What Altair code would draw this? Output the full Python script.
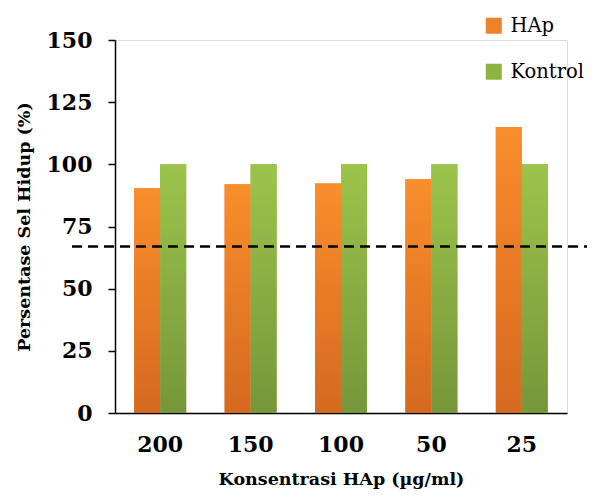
import altair as alt
import pandas as pd

concentrations = ["200", "150", "100", "50", "25"]
hap_values = [90.5, 92.0, 92.3, 94.0, 115.0]
kontrol_values = [100.0, 100.0, 100.0, 100.0, 100.0]
series_names = ["HAp", "Kontrol"]
threshold = [67.0]
y_ticks = [0, 25, 50, 75, 100, 125, 150]

rows = []
for c, h, k in zip(concentrations, hap_values, kontrol_values):
    rows.append({"konsentrasi": c, "seri": "HAp", "nilai": h})
    rows.append({"konsentrasi": c, "seri": "Kontrol", "nilai": k})
df = pd.DataFrame(rows)
df_line = pd.DataFrame({"batas": threshold})

FONT = "DejaVu Serif"
W, H = 452, 373

x_enc = alt.X(
    "konsentrasi:N",
    sort=concentrations,
    scale=alt.Scale(paddingInner=0.425, paddingOuter=0.2125),
    axis=alt.Axis(
        title="Konsentrasi HAp (µg/ml)",
        labelAngle=0,
        ticks=False,
        labelPadding=21,
        labelFont=FONT,
        labelFontWeight="bold",
        labelFontSize=22,
        labelColor="black",
        titleFont=FONT,
        titleFontWeight="bold",
        titleFontSize=17.5,
        titleColor="black",
        titlePadding=15,
        domainColor="black",
        domainWidth=1.5,
    ),
)
y_enc = alt.Y(
    "nilai:Q",
    scale=alt.Scale(domain=[0, 150], nice=False),
    axis=alt.Axis(
        title="Persentase Sel Hidup (%)",
        values=y_ticks,
        grid=False,
        tickSize=7,
        tickColor="black",
        tickWidth=1.5,
        labelPadding=16,
        labelFont=FONT,
        labelFontWeight="bold",
        labelFontSize=22,
        labelColor="black",
        titleFont=FONT,
        titleFontWeight="bold",
        titleFontSize=17.5,
        titleColor="black",
        titlePadding=13,
        domainColor="black",
        domainWidth=1.5,
    ),
)
xoff = alt.XOffset("seri:N", sort=series_names)

base = alt.Chart(df).mark_bar().encode(
    x=x_enc,
    y=y_enc,
    xOffset=xoff,
    color=alt.Color(
        "seri:N",
        sort=series_names,
        scale=alt.Scale(domain=series_names, range=["#EE8129", "#8DB343"]),
        legend=alt.Legend(
            title=None,
            orient="none",
            legendX=369,
            legendY=-24,
            symbolType="square",
            symbolSize=256,
            symbolStrokeWidth=0,
            labelFont=FONT,
            labelFontSize=19.5,
            labelColor="black",
            labelOffset=7,
            rowPadding=25,
            padding=0,
        ),
    ),
)

grad_hap = alt.Gradient(
    gradient="linear", x1=0, x2=0, y1=0, y2=1,
    stops=[alt.GradientStop(color="#F98E2C", offset=0),
           alt.GradientStop(color="#D5691F", offset=1)],
)
grad_kon = alt.Gradient(
    gradient="linear", x1=0, x2=0, y1=0, y2=1,
    stops=[alt.GradientStop(color="#9CC44B", offset=0),
           alt.GradientStop(color="#76963A", offset=1)],
)

hap_layer = alt.Chart(df).transform_filter(alt.datum.seri == "HAp").mark_bar(
    color=grad_hap
).encode(x=x_enc, y=y_enc, xOffset=xoff)
kon_layer = alt.Chart(df).transform_filter(alt.datum.seri == "Kontrol").mark_bar(
    color=grad_kon
).encode(x=x_enc, y=y_enc, xOffset=xoff)

rule = alt.Chart(df_line).mark_rule(
    color="black", strokeWidth=2.5, strokeDash=[10, 6]
).encode(
    y=alt.Y("batas:Q"),
    x=alt.value(-43),
    x2=alt.value(472),
)

chart = alt.layer(base, hap_layer, kon_layer, rule).properties(
    width=W,
    height=H,
    autosize=alt.AutoSizeParams(type="none"),
    padding={"left": 107, "top": 32, "right": 20, "bottom": 76},
).configure_view(stroke=None).configure(background="white")

chart.save("out.html", embed_options={"renderer": "svg", "actions": False})
